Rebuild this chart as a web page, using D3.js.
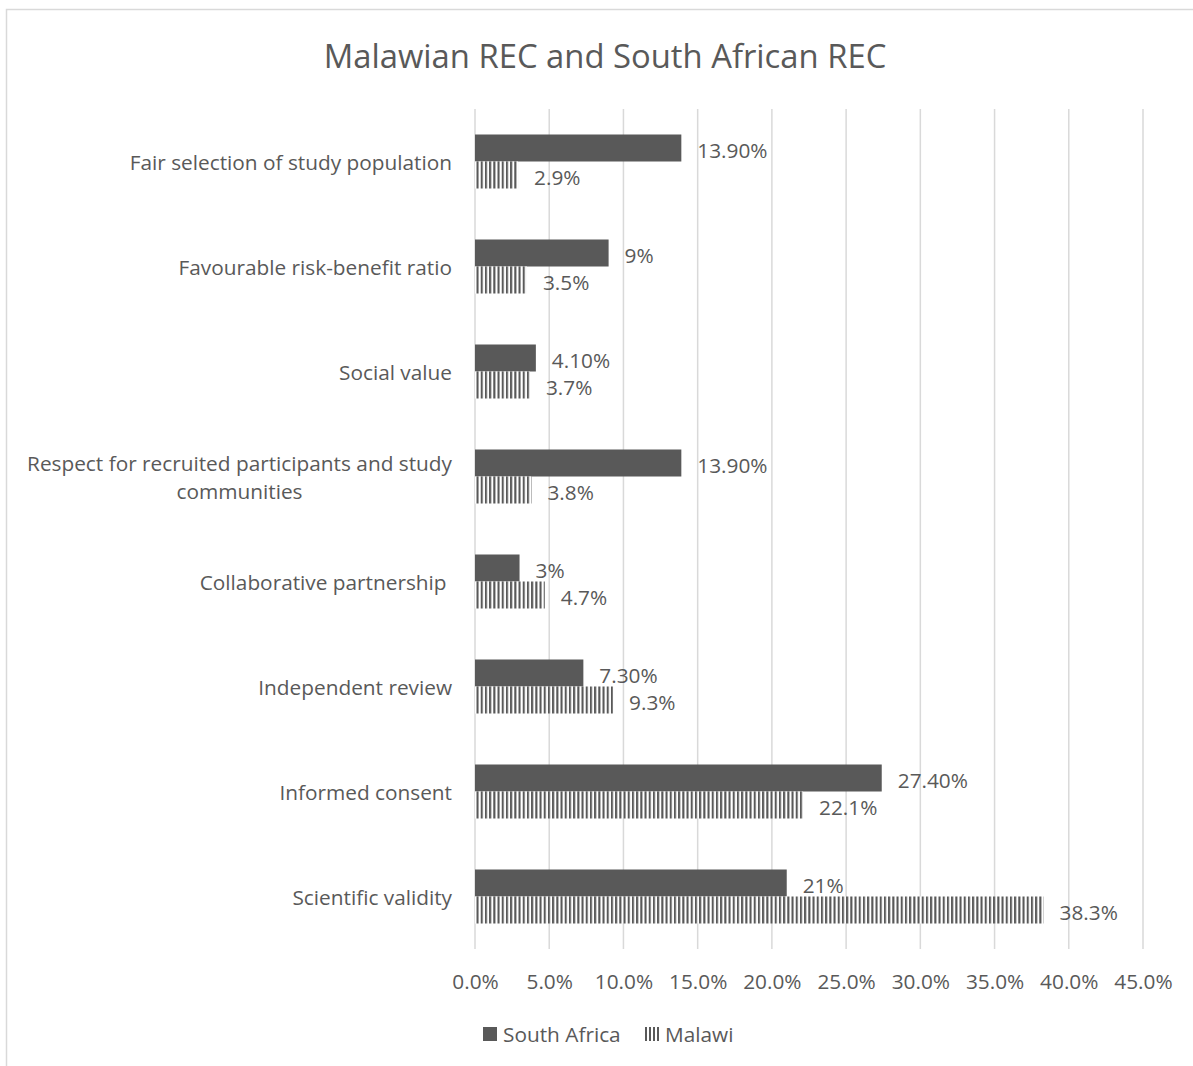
<!DOCTYPE html>
<html>
<head>
<meta charset="utf-8">
<script src="https://cdn.jsdelivr.net/npm/d3@7"></script>
<style>
  html, body { margin: 0; padding: 0; background: #fff; }
  svg { display: block; font-family: "Open Sans", sans-serif; }
  .cat { white-space: pre; }
</style>
</head>
<body>
<svg id="chart" width="1193" height="1066"></svg>
<script>
const categories = [
  "Fair selection of study population",
  "Favourable risk-benefit ratio",
  "Social value",
  "Respect for recruited participants and study|communities",
  "Collaborative partnership ",
  "Independent review",
  "Informed consent",
  "Scientific validity"
];
const seriesNames = ["South Africa", "Malawi"];
const southAfrica = [13.9, 9, 4.1, 13.9, 3, 7.3, 27.4, 21];
const malawi = [2.9, 3.5, 3.7, 3.8, 4.7, 9.3, 22.1, 38.3];
const southAfricaLabels = ["13.90%", "9%", "4.10%", "13.90%", "3%", "7.30%", "27.40%", "21%"];
const malawiLabels = ["2.9%", "3.5%", "3.7%", "3.8%", "4.7%", "9.3%", "22.1%", "38.3%"];
const tickValues = [0, 5, 10, 15, 20, 25, 30, 35, 40, 45];
const title = "Malawian REC and South African REC";

const textColor = "#595959";
const barColor = "#595959";
const gridColor = "#d9d9d9";
const fs = 20.8;

const svg = d3.select("#chart");

// pattern for Malawi
const defs = svg.append("defs");
const pat = defs.append("pattern")
  .attr("id", "vstripe")
  .attr("patternUnits", "userSpaceOnUse")
  .attr("width", 4.2).attr("height", 10)
  .attr("x", 476.5);
pat.append("rect").attr("width", 4.2).attr("height", 10).attr("fill", "#fff");
pat.append("rect").attr("width", 2.1).attr("height", 10).attr("fill", barColor);

// chart border
svg.append("rect")
  .attr("x", 6.5).attr("y", 9.5)
  .attr("width", 1300).attr("height", 1200)
  .attr("fill", "none").attr("stroke", gridColor).attr("stroke-width", 1.5);

// title
svg.append("text")
  .attr("x", 605).attr("y", 55)
  .attr("text-anchor", "middle").attr("dominant-baseline", "central")
  .attr("font-size", 32.8).attr("fill", textColor)
  .text(title);

const x = d3.scaleLinear().domain([0, 45]).range([475, 1143]);
const y = d3.scaleBand().domain(categories).range([109, 949]).padding(0);
const bw = y.bandwidth();
const ys = d3.scaleBand().domain(seriesNames).range([bw / 2 - 27, bw / 2 + 27]).padding(0);

// gridlines
svg.append("g").selectAll("line").data(tickValues).join("line")
  .attr("x1", d => x(d)).attr("x2", d => x(d))
  .attr("y1", 109).attr("y2", 949)
  .attr("stroke", gridColor).attr("stroke-width", 1.5);

// x axis
const xAxis = svg.append("g")
  .attr("transform", "translate(0,970)")
  .call(d3.axisBottom(x).tickValues(tickValues).tickSize(0).tickFormat(d => d.toFixed(1) + "%"));
xAxis.select(".domain").remove();
xAxis.selectAll("text")
  .attr("font-family", "Open Sans, sans-serif")
  .attr("font-size", fs).attr("fill", textColor)
  .attr("dy", null).attr("y", 11)
  .attr("dominant-baseline", "central");

// category labels
const catG = svg.append("g");
categories.forEach(c => {
  const lines = c.split("|");
  const cy = y(c) + bw / 2;
  if (lines.length === 1) {
    catG.append("text").attr("class", "cat")
      .attr("x", 452).attr("y", cy)
      .attr("text-anchor", "end").attr("dominant-baseline", "central")
      .attr("font-size", fs).attr("fill", textColor)
      .text(lines[0]);
  } else {
    const t = catG.append("text").attr("font-size", fs).attr("fill", textColor)
      .attr("text-anchor", "middle");
    const tmp = t.append("tspan").text(lines[0]);
    const w = tmp.node().getComputedTextLength();
    tmp.remove();
    const cx = 452 - w / 2;
    lines.forEach((l, i) => {
      t.append("tspan").attr("x", cx)
        .attr("y", cy + (i - (lines.length - 1) / 2) * 28)
        .attr("dominant-baseline", "central")
        .text(l);
    });
  }
});

// bars
const data = categories.map((c, i) => ({
  cat: c,
  vals: [
    { s: "South Africa", v: southAfrica[i], label: southAfricaLabels[i] },
    { s: "Malawi", v: malawi[i], label: malawiLabels[i] }
  ]
}));

const grp = svg.append("g").selectAll("g").data(data).join("g")
  .attr("transform", d => `translate(0,${y(d.cat)})`);

grp.selectAll("rect").data(d => d.vals).join("rect")
  .attr("x", x(0))
  .attr("y", d => ys(d.s))
  .attr("width", d => x(d.v) - x(0))
  .attr("height", ys.bandwidth())
  .attr("fill", d => d.s === "South Africa" ? barColor : "url(#vstripe)");

grp.selectAll("text").data(d => d.vals).join("text")
  .attr("x", d => x(d.v) + 16)
  .attr("y", d => ys(d.s) + ys.bandwidth() / 2 + 2)
  .attr("dominant-baseline", "central")
  .attr("font-size", fs).attr("fill", textColor)
  .text(d => d.label);

// legend
const legend = svg.append("g");
const legendItems = [
  { name: "South Africa", x: 483, fill: barColor },
  { name: "Malawi", x: 645, fill: "url(#vstripeL)" }
];
const pat2 = defs.append("pattern")
  .attr("id", "vstripeL")
  .attr("patternUnits", "userSpaceOnUse")
  .attr("width", 4).attr("height", 10).attr("x", 645);
pat2.append("rect").attr("width", 4).attr("height", 10).attr("fill", "#fff");
pat2.append("rect").attr("width", 2).attr("height", 10).attr("fill", barColor);

legendItems.forEach(li => {
  legend.append("rect")
    .attr("x", li.x).attr("y", 1027).attr("width", 14).attr("height", 14)
    .attr("fill", li.fill);
  legend.append("text")
    .attr("x", li.x + 20).attr("y", 1034)
    .attr("dominant-baseline", "central")
    .attr("font-size", fs).attr("fill", textColor)
    .text(li.name);
});
</script>
</body>
</html>
